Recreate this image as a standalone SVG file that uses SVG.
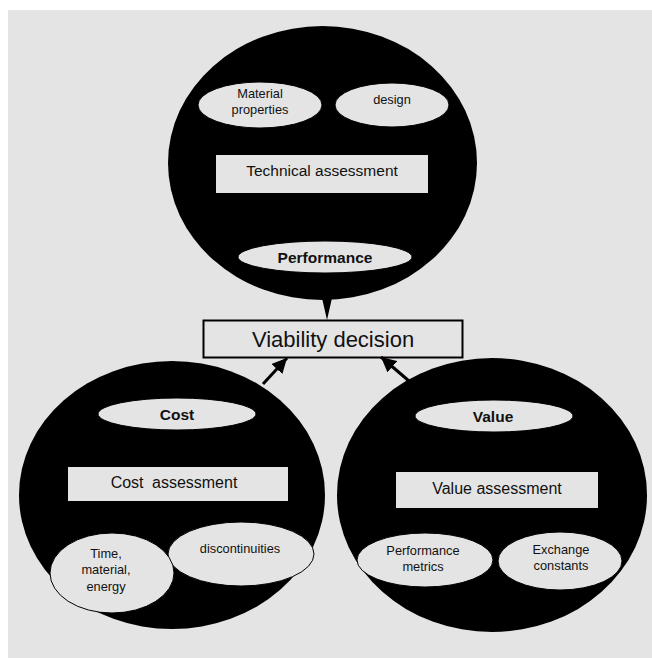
<svg xmlns="http://www.w3.org/2000/svg" width="652" height="658" viewBox="0 0 652 658">
<defs>
<style>
.bg{fill:#e4e4e4}
.blob{fill:#000}
.el{fill:#e4e4e4;stroke:#000;stroke-width:1}
.box{fill:#e4e4e4}
.t{font-family:"Liberation Sans",Arial,sans-serif;fill:#111;text-anchor:middle}
.s{font-size:12.8px}
.m{font-size:16px}
.b{font-size:15.5px;font-weight:bold}
.conn{stroke:#000;stroke-width:3;fill:none}
</style>
<marker id="ah" viewBox="0 0 10 10" refX="10" refY="5" markerWidth="5" markerHeight="5" orient="auto" markerUnits="strokeWidth">
<path d="M0,0 L10,5 L0,10 z" fill="#000"/>
</marker>
</defs>
<rect class="bg" x="8" y="10" width="644" height="648"/>

<g id="technical">
<ellipse class="blob" cx="322.5" cy="163" rx="154.5" ry="137"/>
<g id="material-properties">
<ellipse class="el" cx="260" cy="105" rx="62" ry="23"/>
<text class="t s" x="260" y="98">Material</text>
<text class="t s" x="260" y="114">properties</text>
</g>
<g id="design">
<ellipse class="el" cx="392" cy="105" rx="57" ry="22"/>
<text class="t s" x="392" y="104">design</text>
</g>
<g id="technical-assessment">
<rect class="box" x="216" y="155" width="212" height="38"/>
<text class="t m" x="322" y="176" style="font-size:15.5px">Technical assessment</text>
</g>
<g id="performance">
<ellipse class="el" cx="325" cy="257" rx="87" ry="16"/>
<text class="t b" x="325" y="263">Performance</text>
</g>
</g>

<g id="viability-decision">
<rect x="203.5" y="320.5" width="259" height="37" fill="#e4e4e4" stroke="#000" stroke-width="2"/>
<text class="t" x="333" y="347" style="font-size:22px">Viability decision</text>
</g>

<g id="cost">
<ellipse class="blob" cx="172" cy="495" rx="153" ry="134"/>
<g id="cost-label">
<ellipse class="el" cx="177" cy="414" rx="79" ry="16"/>
<text class="t b" x="177" y="420">Cost</text>
</g>
<g id="cost-assessment">
<rect class="box" x="68" y="467" width="220" height="34"/>
<text class="t m" x="174" y="488" style="word-spacing:4px">Cost assessment</text>
</g>
<g id="discontinuities">
<ellipse class="el" cx="241" cy="554" rx="73" ry="32"/>
<text class="t s" x="240" y="553">discontinuities</text>
</g>
<g id="time-material-energy">
<ellipse class="el" cx="112" cy="573" rx="62" ry="40"/>
<text class="t s" x="106" y="558">Time,</text>
<text class="t s" x="106" y="574">material,</text>
<text class="t s" x="106" y="591">energy</text>
</g>
</g>

<g id="value">
<ellipse class="blob" cx="492" cy="495" rx="155" ry="137"/>
<g id="value-label">
<ellipse class="el" cx="494" cy="416" rx="79" ry="16"/>
<text class="t b" x="493" y="422">Value</text>
</g>
<g id="value-assessment">
<rect class="box" x="396" y="472" width="202" height="36"/>
<text class="t m" x="497" y="494">Value assessment</text>
</g>
<g id="performance-metrics">
<ellipse class="el" cx="425" cy="560" rx="68" ry="27"/>
<text class="t s" x="423" y="555">Performance</text>
<text class="t s" x="423" y="571">metrics</text>
</g>
<g id="exchange-constants">
<ellipse class="el" cx="560" cy="561" rx="62" ry="29"/>
<text class="t s" x="561" y="554">Exchange</text>
<text class="t s" x="561" y="570">constants</text>
</g>
</g>

<g id="connectors">
<path d="M322,298 L332,298 L327,320 Z" fill="#000"/>
<line class="conn" x1="263" y1="384" x2="287" y2="358" marker-end="url(#ah)"/>
<line class="conn" x1="409" y1="381" x2="381" y2="357" marker-end="url(#ah)"/>
</g>
</svg>
